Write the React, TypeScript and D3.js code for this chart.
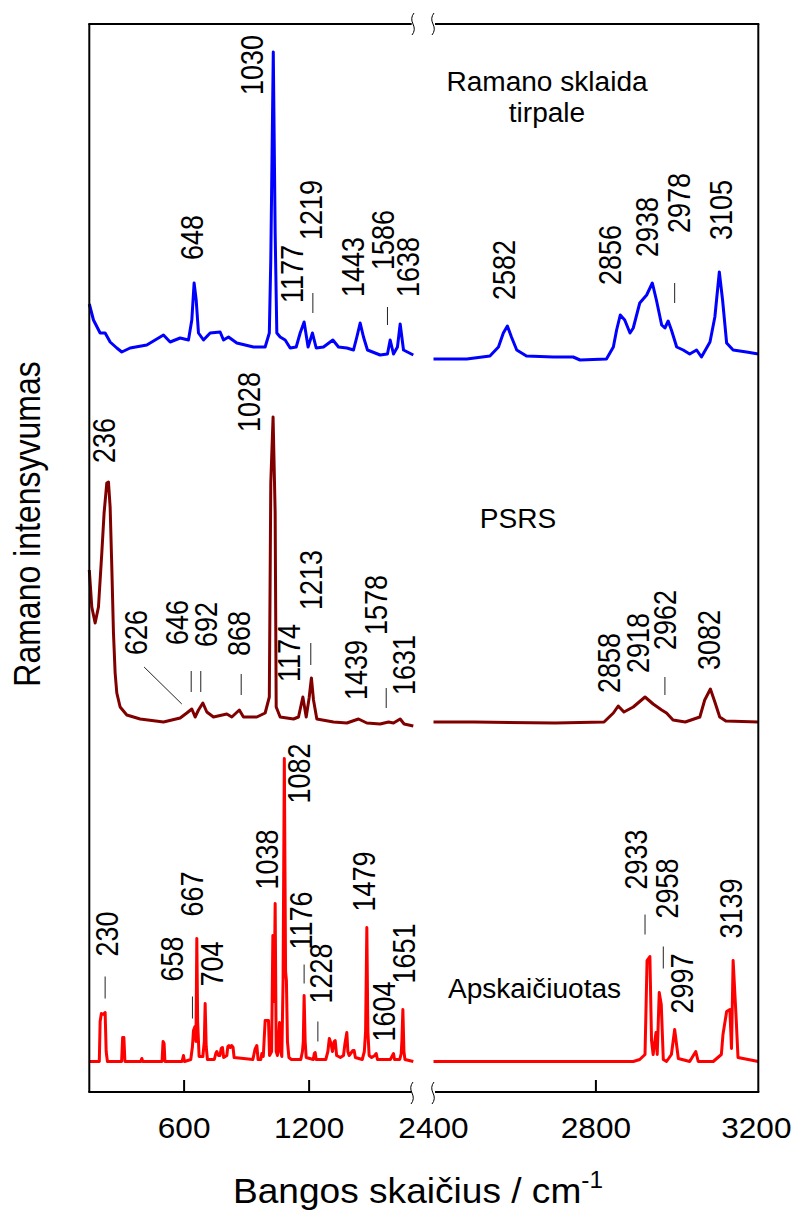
import React from "react";
import * as d3 from "d3";

const W = 796;
const H = 1212;
const FONT = "'Liberation Sans', Arial, sans-serif";

// spectra: [wavenumber cm-1, intensity above own baseline]
const solutionLow = [[145,51],[165,35],[197,22],[221,22],[245,13],[277,7],[301,3],[341,7],[421,10],[501,20],[533,13],[581,17],[621,15],[637,35],[648,72],[658,55],[669,22],[693,15],[725,22],[773,23],[789,15],[813,18],[853,12],[933,8],[989,8],[1009,22],[1016,95],[1028,303],[1037,122],[1045,22],[1061,18],[1085,15],[1109,7],[1138,8],[1157,22],[1176,33],[1195,8],[1216,22],[1234,7],[1269,8],[1314,15],[1341,8],[1381,7],[1413,5],[1429,18],[1445,32],[1461,18],[1480,5],[1541,0],[1576,1],[1589,15],[1605,1],[1624,8],[1637,31],[1653,5],[1700,0]];
const solutionHigh = [[2400,-4],[2482,-4],[2539,-1],[2560,8],[2572,22],[2582,29],[2592,18],[2605,5],[2629,-1],[2695,-2],[2744,-2],[2761,-5],[2826,-4],[2843,8],[2851,25],[2860,40],[2871,35],[2884,22],[2892,27],[2908,52],[2925,60],[2939,72],[2949,55],[2962,30],[2970,27],[2978,34],[2986,25],[2999,8],[3015,5],[3031,1],[3048,5],[3060,-2],[3081,13],[3093,38],[3104,83],[3112,55],[3122,12],[3138,5],[3171,3],[3200,1]];

const psrsLow = [[145,152],[157,115],[173,99],[189,115],[205,169],[216,209],[229,239],[237,240],[245,215],[253,155],[261,89],[269,49],[277,29],[293,15],[325,7],[389,3],[501,0],[581,4],[613,9],[637,13],[653,5],[669,12],[690,19],[709,10],[741,5],[805,8],[829,5],[865,12],[885,5],[949,5],[989,9],[1009,25],[1016,239],[1027,305],[1037,209],[1042,15],[1061,5],[1125,3],[1149,5],[1170,25],[1186,5],[1200,24],[1211,44],[1221,22],[1237,3],[1317,0],[1381,-1],[1437,3],[1477,-1],[1541,-2],[1581,0],[1605,-1],[1637,3],[1656,-2],[1700,-4]];
const psrsHigh = [[2400,0],[2500,0],[2700,-1],[2820,0],[2843,9],[2855,16],[2869,10],[2892,15],[2921,25],[2941,18],[2962,12],[2974,9],[2990,2],[3020,0],[3056,5],[3068,22],[3082,33],[3093,20],[3105,5],[3120,1],[3200,0]];

const calcLow = [[145,0],[193,0],[197,40],[203,48],[214,47],[221,49],[226,10],[232,0],[300,0],[305,24],[311,24],[316,0],[392,0],[397,3],[402,0],[494,0],[499,20],[504,18],[508,0],[590,0],[597,6],[602,0],[632,2],[640,15],[645,31],[652,35],[657,20],[661,123],[665,40],[672,5],[690,5],[697,20],[701,58],[706,15],[712,2],[745,2],[752,8],[757,10],[765,6],[772,6],[778,13],[784,14],[790,4],[805,6],[810,15],[815,16],[822,14],[828,16],[835,14],[840,4],[930,2],[940,12],[949,16],[955,2],[968,2],[973,8],[980,5],[989,41],[1005,41],[1010,6],[1020,10],[1026,126],[1032,60],[1037,158],[1042,10],[1048,6],[1053,20],[1058,39],[1063,10],[1069,5],[1075,81],[1081,303],[1087,90],[1091,81],[1096,20],[1103,4],[1115,2],[1160,2],[1168,10],[1172,20],[1176,66],[1181,20],[1186,4],[1220,2],[1225,8],[1229,9],[1234,2],[1280,2],[1290,10],[1297,23],[1305,18],[1312,10],[1320,20],[1325,21],[1332,6],[1350,4],[1365,6],[1372,18],[1381,29],[1386,10],[1392,6],[1410,11],[1416,11],[1422,4],[1455,2],[1465,10],[1471,30],[1477,134],[1482,30],[1488,6],[1500,4],[1515,6],[1522,8],[1528,2],[1590,2],[1600,6],[1605,8],[1610,2],[1635,2],[1642,8],[1645,20],[1650,52],[1655,10],[1660,2],[1700,0]];
const calcHigh = [[2400,0],[2892,0],[2908,2],[2921,7],[2926,101],[2933,105],[2937,21],[2941,7],[2948,29],[2951,7],[2956,69],[2961,57],[2966,2],[2974,0],[2986,7],[2994,32],[3003,3],[3031,0],[3046,10],[3052,0],[3089,0],[3109,7],[3113,27],[3122,50],[3130,52],[3134,13],[3138,101],[3145,47],[3150,4],[3200,0]];

// vertical stacking of the three spectra
const solutionOffset = 737;
const psrsOffset = 370;
const calcOffset = 30.5;

// peak labels: [text, wavenumber at label baseline, intensity at label foot]
const solutionLabels = [["648",690,95],["1030",978,260],["1177",1173,52],["1219",1261,115],["1443",1461,58],["1586",1605,85],["1638",1729,58],["2582",2601,55],["2856",2861,70],["2938",2953,98],["2978",3033,122],["3105",3134,115]];
const psrsLabels = [["236",269,259],["1028",965,290],["626",421,67],["646",621,77],["692",757,75],["868",917,66],["1174",1157,40],["1213",1261,112],["1439",1480,22],["1578",1573,87],["1631",1709,27],["2858",2859,29],["2918",2931,49],["2962",2997,72],["3082",3105,52]];
const calcLabels = [["230",285,105],["658",597,80],["667",693,145],["704",789,75],["1038",1053,172],["1082",1205,258],["1176",1213,112],["1228",1309,58],["1479",1517,150],["1604",1613,20],["1651",1709,78],["2933",2925,172],["2958",3003,143],["2997",3038,48],["3139",3159,123]];

// short marker strokes: [wavenumber, top intensity, bottom intensity]
const solutionMarks = [[1218,62,42],[1576,48,30],[2994,72,52]];
const psrsMarks = [[634,51,30],[680,51,30],[874,48,27],[1208,79,57],[1570,34,14],[2970,45,27]];
const calcMarks = [[221,85,63],[640,65,43],[1176,97,78],[1242,40,20],[2921,147,127],[2966,115,93]];
const psrsLeader = [[408,55],[589,18]];

const lowTicks = [600, 1200];
const highTicks = [2400, 2800, 3200];

const xLow = d3.scaleLinear().domain([145, 1700]).range([89.3, 413.3]);
const xHigh = d3.scaleLinear().domain([2400, 3200]).range([433.5, 758.3]);
const y = d3.scaleLinear().domain([0, 1068]).range([1092, 24]);
const xOf = (v) => (v < 2000 ? xLow(v) : xHigh(v));

const left = xLow.range()[0];
const right = xHigh.range()[1];
const top = y.range()[1];
const bottom = y.range()[0];
const gapL = 411.7;
const gapR = 435;

function BreakMark({ x, yc }) {
  const d = `M${x + 1},${yc - 11} Q${x - 3},${yc - 6} ${x},${yc} Q${x + 3},${yc + 6} ${x - 1},${yc + 11}`;
  return <path d={d} fill="none" stroke="#000" strokeWidth={1} />;
}

function Spectrum({ low, high, offset, color }) {
  const line = (xs) =>
    d3.line().x((d) => xs(d[0])).y((d) => y(offset + d[1]));
  return (
    <g fill="none" stroke={color} strokeWidth={3} strokeLinejoin="round">
      <path d={line(xLow)(low)} />
      <path d={line(xHigh)(high)} />
    </g>
  );
}

function Labels({ labels, marks, offset }) {
  return (
    <g>
      {labels.map(([t, v, i]) => (
        <text
          key={t + v}
          transform={`translate(${xOf(v)},${y(offset + i)}) scale(1.15,1) rotate(-90)`}
          fontSize={27}
          fontFamily={FONT}
          fill="#000"
        >
          {t}
        </text>
      ))}
      {marks.map(([v, a, b]) => (
        <line
          key={"m" + v}
          x1={xOf(v)}
          x2={xOf(v)}
          y1={y(offset + a)}
          y2={y(offset + b)}
          stroke="#222"
          strokeWidth={1}
        />
      ))}
    </g>
  );
}

export default function App() {
  return (
    <svg width={W} height={H} style={{ display: "block", position: "absolute", left: 0, top: 0 }}>
      <rect width={W} height={H} fill="#fff" />

      <Spectrum low={solutionLow} high={solutionHigh} offset={solutionOffset} color="#0000ff" />
      <Spectrum low={psrsLow} high={psrsHigh} offset={psrsOffset} color="#800000" />
      <Spectrum low={calcLow} high={calcHigh} offset={calcOffset} color="#ff0000" />

      <Labels labels={solutionLabels} marks={solutionMarks} offset={solutionOffset} />
      <Labels labels={psrsLabels} marks={psrsMarks} offset={psrsOffset} />
      <Labels labels={calcLabels} marks={calcMarks} offset={calcOffset} />
      <line
        x1={xOf(psrsLeader[0][0])}
        y1={y(psrsOffset + psrsLeader[0][1])}
        x2={xOf(psrsLeader[1][0])}
        y2={y(psrsOffset + psrsLeader[1][1])}
        stroke="#222"
        strokeWidth={1}
      />

      {/* frame with axis break */}
      <g stroke="#000" strokeWidth={2} fill="none">
        <line x1={left} x2={left} y1={top} y2={bottom} />
        <line x1={right} x2={right} y1={top} y2={bottom} />
        <line x1={left - 1} x2={gapL} y1={top} y2={top} />
        <line x1={gapR} x2={right + 1} y1={top} y2={top} />
        <line x1={left - 1} x2={gapL} y1={bottom} y2={bottom} />
        <line x1={gapR} x2={right + 1} y1={bottom} y2={bottom} />
        {lowTicks.map((t) => (
          <line key={t} x1={xLow(t)} x2={xLow(t)} y1={bottom} y2={bottom - 12} />
        ))}
        {highTicks
          .filter((t) => t > 2400 && t < 3200)
          .map((t) => (
            <line key={t} x1={xHigh(t)} x2={xHigh(t)} y1={bottom} y2={bottom - 12} />
          ))}
      </g>
      <BreakMark x={413} yc={top} />
      <BreakMark x={433} yc={top} />
      <BreakMark x={412} yc={bottom + 1} />
      <BreakMark x={433} yc={bottom + 1} />

      {/* tick labels */}
      {[...lowTicks.map((t) => [t, xLow(t)]), ...highTicks.map((t) => [t, xHigh(t)])].map(([t, x]) => (
        <text
          key={"t" + t}
          transform={`translate(${t === 3200 ? x - 2 : x},1138) scale(1.09,1)`}
          textAnchor="middle"
          fontSize={29}
          fontFamily={FONT}
        >
          {t}
        </text>
      ))}

      {/* axis titles */}
      <text transform="translate(233,1203) scale(1.06,1)" fontSize={35} fontFamily={FONT}>
        Bangos skaičius / cm
        <tspan dy={-15} fontSize={23}>-1</tspan>
      </text>
      <text
        transform="translate(40,524) scale(1.15,1) rotate(-90)"
        textAnchor="middle"
        fontSize={32}
        fontFamily={FONT}
      >
        Ramano intensyvumas
      </text>

      {/* spectrum captions */}
      <g fontSize={27} fontFamily={FONT} textAnchor="middle">
        <text transform="translate(547,90.5) scale(1.04,1)">Ramano sklaida</text>
        <text transform="translate(547,121.5) scale(1.04,1)">tirpale</text>
        <text transform="translate(518,527.5) scale(1.04,1)">PSRS</text>
        <text transform="translate(534.5,998) scale(1.04,1)">Apskaičiuotas</text>
      </g>
    </svg>
  );
}
